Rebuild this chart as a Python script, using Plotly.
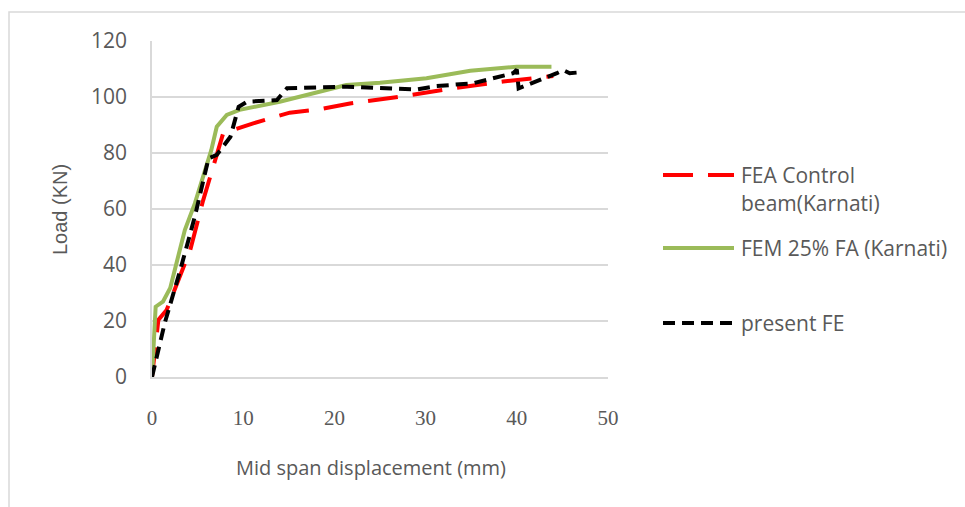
import plotly.graph_objects as go

# ---- data ----
fea_control_x = [0, 0.7, 1.6, 4.2, 5.6, 7.1, 7.8, 11.1, 15.1, 18.4, 21.7, 27.6, 33.0, 38.5, 44.0]
fea_control_y = [0, 20.4, 23.9, 45.4, 63.0, 78.7, 87.0, 90.6, 94.4, 95.6, 97.7, 100.3, 103.1, 105.5, 107.5]

fem_fa_x = [0, 0.4, 1.2, 2.0, 3.6, 4.7, 6.5, 7.1, 8.2, 9.6, 14.0, 21.3, 25.0, 30.1, 34.9, 40.0, 43.8]
fem_fa_y = [0, 25.1, 26.9, 31.8, 52.5, 62.0, 81.0, 89.4, 93.6, 95.4, 98.3, 104.3, 105.1, 106.7, 109.4, 110.8, 110.8]

present_x = [0, 1.4, 3.1, 4.7, 6.2, 7.1, 8.6, 9.5, 10.4, 13.7, 14.8, 21.4, 29.0, 31.2, 35.2, 39.6, 40.0, 40.2, 44.4, 45.1, 45.8, 46.9]
present_y = [0, 19.3, 38.2, 57.3, 78.1, 79.3, 85.8, 96.5, 98.3, 98.9, 103.1, 103.7, 102.7, 103.9, 104.9, 108.5, 109.8, 103.1, 108.5, 109.6, 108.5, 108.8]

x_ticks = [0, 10, 20, 30, 40, 50]
y_ticks = [0, 20, 40, 60, 80, 100, 120]

series_names = ["FEA Control", "FEM 25% FA (Karnati)", "present FE"]
legend_texts = [["FEA Control", "beam(Karnati)"], ["FEM 25% FA (Karnati)"], ["present FE"]]

RED = "#ff0000"
GREEN = "#9bbb59"
BLACK = "#000000"
RED_DASH = "30px,15px"
BLACK_DASH = "12px,7px"
TXT = "#595959"
GRID = "#d9d9d9"
SANS = "Open Sans"

# plot area in pixels
W, H = 965, 507
L, R, T, B = 152, 608, 41, 377
PW, PH = R - L, B - T


def px(xp):
    return (xp - L) / PW


def py(yp):
    return (B - yp) / PH


fig = go.Figure()
fig.add_trace(go.Scatter(x=fea_control_x, y=fea_control_y, mode="lines", name=series_names[0],
                         line=dict(color=RED, width=4, dash=RED_DASH)))
fig.add_trace(go.Scatter(x=fem_fa_x, y=fem_fa_y, mode="lines", name=series_names[1],
                         line=dict(color=GREEN, width=4)))
fig.add_trace(go.Scatter(x=present_x, y=present_y, mode="lines", name=series_names[2],
                         line=dict(color=BLACK, width=4, dash=BLACK_DASH)))

shapes = [
    # outer chart border
    dict(type="rect", xref="paper", yref="paper", x0=px(9), x1=px(980), y0=py(12), y1=py(520),
         line=dict(color=GRID, width=1.5), layer="below"),
    # legend samples
    dict(type="line", xref="paper", yref="paper", x0=px(663), x1=px(734), y0=py(175), y1=py(175),
         line=dict(color=RED, width=4, dash=RED_DASH)),
    dict(type="line", xref="paper", yref="paper", x0=px(663), x1=px(734), y0=py(248), y1=py(248),
         line=dict(color=GREEN, width=4)),
    dict(type="line", xref="paper", yref="paper", x0=px(663), x1=px(734), y0=py(323), y1=py(323),
         line=dict(color=BLACK, width=4, dash=BLACK_DASH)),
]

annotations = [
    dict(text="Load (KN)", xref="paper", yref="paper", x=px(60), y=py(210), textangle=-90,
         showarrow=False, xanchor="center", yanchor="middle",
         font=dict(family="Liberation Sans", size=20, color=TXT)),
    dict(text="Mid span displacement (mm)", xref="paper", yref="paper", x=px(371), y=py(467),
         showarrow=False, xanchor="center", yanchor="middle", font=dict(family=SANS, size=20, color=TXT)),
]
leg_y = [[175, 203], [248], [323]]
for texts, ys in zip(legend_texts, leg_y):
    for t, yy in zip(texts, ys):
        annotations.append(dict(text=t, xref="paper", yref="paper", x=px(739), y=py(yy), showarrow=False,
                                xanchor="left", yanchor="middle", font=dict(family=SANS, size=21, color=TXT)))

fig.update_layout(
    width=W, height=H,
    margin=dict(l=L, r=W - R, t=T, b=H - B, pad=0),
    paper_bgcolor="white", plot_bgcolor="white",
    showlegend=False,
    shapes=shapes,
    annotations=annotations,
    xaxis=dict(range=[0, 50], tickvals=x_ticks, ticktext=[str(v) for v in x_ticks],
               showgrid=False, zeroline=False, showline=True, linecolor=GRID, linewidth=1.5,
               ticks="", ticklabelstandoff=21,
               tickfont=dict(family="Liberation Serif", size=21, color=TXT)),
    yaxis=dict(range=[0, 120], tickvals=y_ticks, ticktext=[str(v) for v in y_ticks],
               showgrid=True, gridcolor=GRID, gridwidth=1.5, zeroline=False,
               showline=True, linecolor=GRID, linewidth=1.5,
               ticks="", ticklabelstandoff=19,
               tickfont=dict(family=SANS, size=21, color=TXT)),
)

fig.write_html("out.html", config={"displayModeBar": False},
               post_script="document.body.style.margin='0';")
